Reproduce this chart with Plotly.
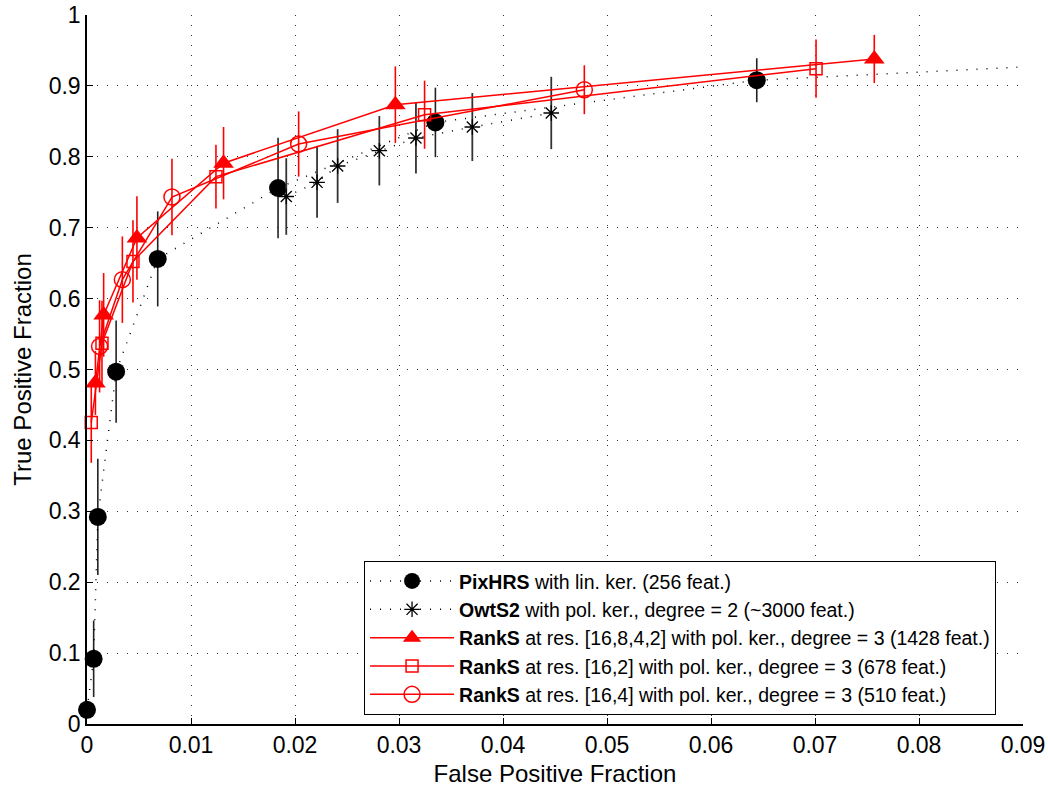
import plotly.graph_objects as go

# ROC operating points (false positive fraction, true positive fraction, +/- error)
pix_fpf = [0.0000, 0.00064, 0.00104, 0.0028, 0.0068, 0.01837, 0.0335, 0.0644]
pix_tpf = [0.020, 0.092, 0.292, 0.497, 0.656, 0.756, 0.8485, 0.908]
pix_err = [0.0, 0.054, 0.082, 0.072, 0.067, 0.071, 0.049, 0.031]
# PixHRS curve continues past the visible range
pix_tail_fpf = [0.0644, 0.12]
pix_tail_tpf = [0.908, 0.949]

owt_fpf = [0.01916, 0.02212, 0.02410, 0.02811, 0.03163, 0.03705, 0.04464]
owt_tpf = [0.744, 0.764, 0.787, 0.8086, 0.8265, 0.842, 0.8618]
owt_err = [0.054, 0.050, 0.052, 0.049, 0.050, 0.048, 0.051]

tri_fpf = [0.00081, 0.0016, 0.0048, 0.01313, 0.02965, 0.0757]
tri_tpf = [0.481, 0.577, 0.6855, 0.791, 0.8735, 0.938]
tri_err = [0.045, 0.059, 0.059, 0.051, 0.054, 0.034]

sq_fpf = [0.00041, 0.00144, 0.00442, 0.0124, 0.03246, 0.0701]
sq_tpf = [0.4254, 0.537, 0.6525, 0.772, 0.8594, 0.9243]
sq_err = [0.057, 0.060, 0.058, 0.045, 0.048, 0.041]

circ_fpf = [0.00121, 0.0034, 0.00817, 0.02035, 0.04782]
circ_tpf = [0.5326, 0.6267, 0.7433, 0.818, 0.8946]
circ_err = [0.065, 0.061, 0.054, 0.046, 0.0345]

names = [
    "<b>PixHRS</b> with lin. ker. (256 feat.)",
    "<b>OwtS2</b> with pol. ker., degree = 2 (~3000 feat.)",
    "<b>RankS</b> at res. [16,8,4,2] with pol. ker., degree = 3 (1428 feat.)",
    "<b>RankS</b> at res. [16,2] with pol. ker., degree = 3 (678 feat.)",
    "<b>RankS</b> at res. [16,4] with pol. ker., degree = 3 (510 feat.)",
]

FONT = "Liberation Sans, Arial, sans-serif"
RED = "#ff0000"
DOTS = "1px,9px"

fig = go.Figure()

# tail of the PixHRS curve (line only, clipped at the axis range)
fig.add_trace(go.Scatter(
    x=pix_tail_fpf, y=pix_tail_tpf, mode="lines", showlegend=False,
    line=dict(color="black", width=1.5, dash=DOTS), hoverinfo="skip"))

fig.add_trace(go.Scatter(
    x=pix_fpf, y=pix_tpf, name=names[0], mode="lines+markers",
    line=dict(color="black", width=1.5, dash=DOTS),
    marker=dict(symbol="circle", size=18, color="black"),
    error_y=dict(type="data", array=pix_err, color="#222222", thickness=1.6, width=0),
    cliponaxis=False))

fig.add_trace(go.Scatter(
    x=owt_fpf, y=owt_tpf, name=names[1], mode="lines+markers",
    line=dict(color="black", width=1.5, dash=DOTS),
    marker=dict(symbol="asterisk-open", size=13, color="black",
                line=dict(color="black", width=1.3)),
    error_y=dict(type="data", array=owt_err, color="#333333", thickness=1.8, width=0),
    cliponaxis=False))

fig.add_trace(go.Scatter(
    x=tri_fpf, y=tri_tpf, name=names[2], mode="lines+markers",
    line=dict(color=RED, width=1.5),
    marker=dict(symbol="triangle-up", size=18, color=RED),
    error_y=dict(type="data", array=tri_err, color=RED, thickness=1.6, width=0),
    cliponaxis=False))

fig.add_trace(go.Scatter(
    x=sq_fpf, y=sq_tpf, name=names[3], mode="lines+markers",
    line=dict(color=RED, width=1.5),
    marker=dict(symbol="square-open", size=12, color=RED, line=dict(color=RED, width=1.5)),
    error_y=dict(type="data", array=sq_err, color=RED, thickness=1.6, width=0),
    cliponaxis=False))

fig.add_trace(go.Scatter(
    x=circ_fpf, y=circ_tpf, name=names[4], mode="lines+markers",
    line=dict(color=RED, width=1.5),
    marker=dict(symbol="circle-open", size=16, color=RED, line=dict(color=RED, width=1.5)),
    error_y=dict(type="data", array=circ_err, color=RED, thickness=1.6, width=0),
    cliponaxis=False))

axis_common = dict(
    showline=True, linecolor="black", linewidth=1.5,
    ticks="inside", ticklen=6, tickcolor="black", tickwidth=1,
    showgrid=True, gridcolor="#333333", gridwidth=1, griddash="1px,9px",
    zeroline=False, tickfont=dict(family=FONT, size=23, color="black"),
    automargin=False,
)

fig.update_layout(
    width=1048, height=789,
    margin=dict(l=87, r=25, t=15, b=65),
    paper_bgcolor="white", plot_bgcolor="white",
    font=dict(family=FONT, color="black"),
    xaxis=dict(range=[0, 0.09], dtick=0.01, tick0=0,
               title=dict(text="False Positive Fraction",
                          font=dict(family=FONT, size=24), standoff=8),
               **axis_common),
    yaxis=dict(range=[0, 1], dtick=0.1, tick0=0,
               title=dict(text="True Positive Fraction",
                          font=dict(family=FONT, size=24), standoff=10),
               **axis_common),
    legend=dict(x=0.296, y=0.013, xanchor="left", yanchor="bottom",
                bgcolor="white", bordercolor="black", borderwidth=1,
                font=dict(family=FONT, size=19.5, color="black"),
                tracegroupgap=0, itemsizing="trace", itemwidth=84,
                entrywidth=570, entrywidthmode="pixels"),
    showlegend=True,
)

fig.write_html("out.html")
